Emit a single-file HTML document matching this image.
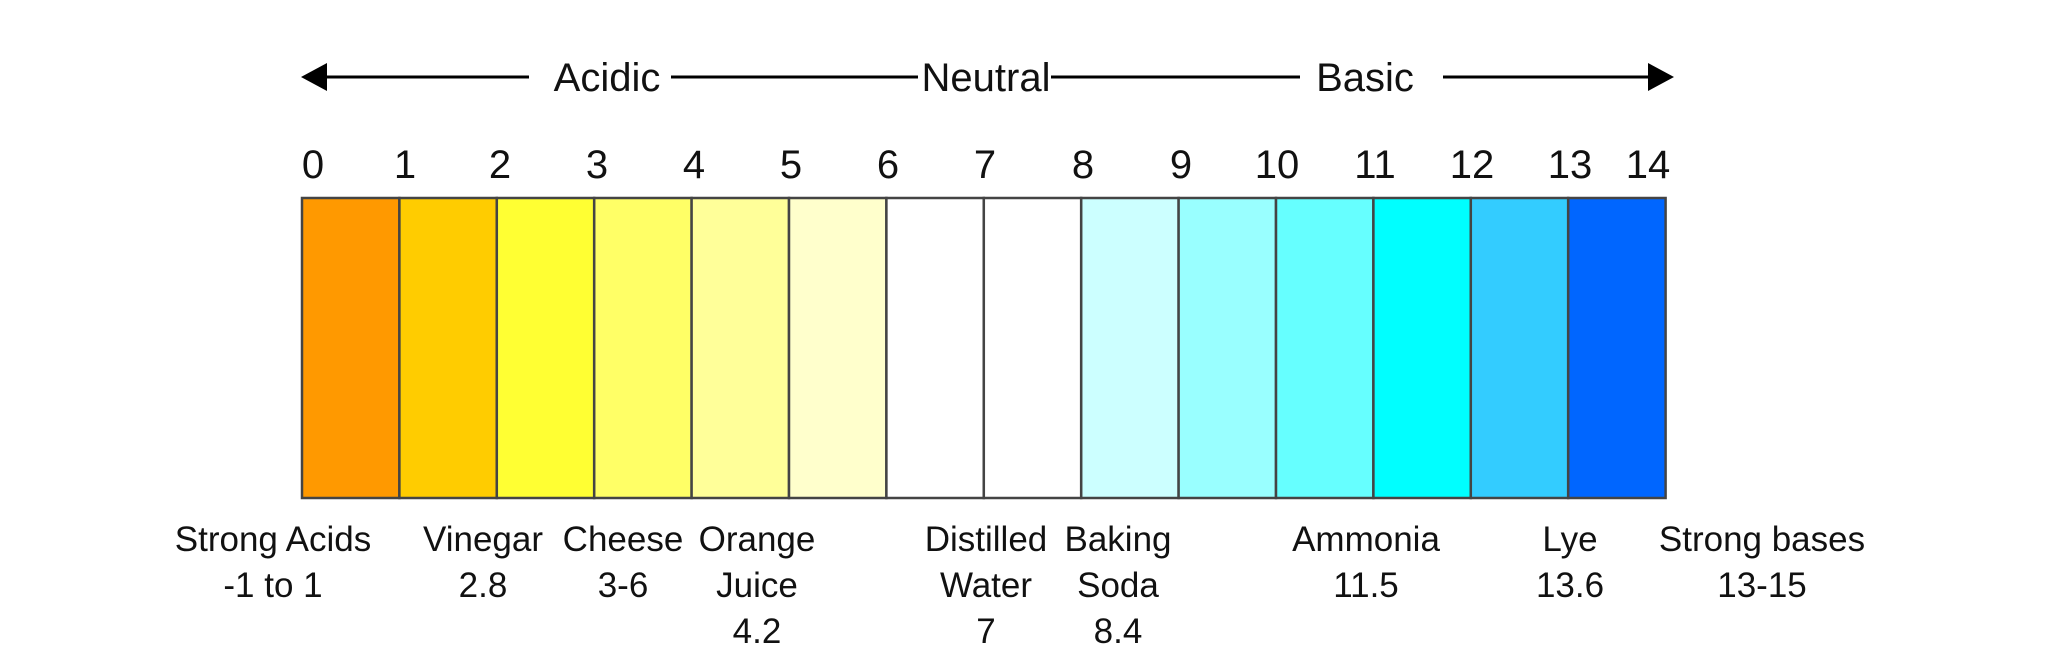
<!DOCTYPE html>
<html><head><meta charset="utf-8"><style>
html,body{margin:0;padding:0;background:#fff}
svg{display:block}
text{font-family:"Liberation Sans",sans-serif;fill:#111;text-anchor:middle}
</style></head><body>
<svg width="2048" height="666" viewBox="0 0 2048 666">
<g stroke="#000" stroke-width="3">
<line x1="320" y1="77" x2="529" y2="77"/>
<line x1="671" y1="77" x2="918" y2="77"/>
<line x1="1051" y1="77" x2="1300" y2="77"/>
<line x1="1443" y1="77" x2="1655" y2="77"/>
</g>
<polygon points="301,77 327,63 327,91" fill="#000"/>
<polygon points="1674,77 1648,63 1648,91" fill="#000"/>
<g font-size="40">
<text x="607" y="91">Acidic</text>
<text x="986" y="91">Neutral</text>
<text x="1365" y="91">Basic</text>
</g>
<g stroke="#444" stroke-width="2.5">
<rect x="302" y="198" width="97.4" height="300" fill="#FF9900"/>
<rect x="399.4" y="198" width="97.4" height="300" fill="#FFCC00"/>
<rect x="496.8" y="198" width="97.4" height="300" fill="#FFFF33"/>
<rect x="594.2" y="198" width="97.4" height="300" fill="#FFFF66"/>
<rect x="691.6" y="198" width="97.4" height="300" fill="#FFFF99"/>
<rect x="789" y="198" width="97.4" height="300" fill="#FFFFCC"/>
<rect x="886.4" y="198" width="97.4" height="300" fill="#FFFFFF"/>
<rect x="983.8" y="198" width="97.4" height="300" fill="#FFFFFF"/>
<rect x="1081.2" y="198" width="97.4" height="300" fill="#CCFFFF"/>
<rect x="1178.6" y="198" width="97.4" height="300" fill="#99FFFF"/>
<rect x="1276" y="198" width="97.4" height="300" fill="#66FFFF"/>
<rect x="1373.4" y="198" width="97.4" height="300" fill="#00FFFF"/>
<rect x="1470.8" y="198" width="97.4" height="300" fill="#33CCFF"/>
<rect x="1568.2" y="198" width="97.4" height="300" fill="#0066FF"/>
</g>
<g font-size="40">
<text x="313" y="178">0</text>
<text x="405" y="178">1</text>
<text x="500" y="178">2</text>
<text x="597" y="178">3</text>
<text x="694" y="178">4</text>
<text x="791" y="178">5</text>
<text x="888" y="178">6</text>
<text x="985" y="178">7</text>
<text x="1083" y="178">8</text>
<text x="1181" y="178">9</text>
<text x="1277" y="178">10</text>
<text x="1375" y="178">11</text>
<text x="1472" y="178">12</text>
<text x="1570" y="178">13</text>
<text x="1648" y="178">14</text>
</g>
<g font-size="35">
<text x="273" y="551">Strong Acids</text><text x="273" y="597">-1 to 1</text>
<text x="483" y="551">Vinegar</text><text x="483" y="597">2.8</text>
<text x="623" y="551">Cheese</text><text x="623" y="597">3-6</text>
<text x="757" y="551">Orange</text><text x="757" y="597">Juice</text><text x="757" y="643">4.2</text>
<text x="986" y="551">Distilled</text><text x="986" y="597">Water</text><text x="986" y="643">7</text>
<text x="1118" y="551">Baking</text><text x="1118" y="597">Soda</text><text x="1118" y="643">8.4</text>
<text x="1366" y="551">Ammonia</text><text x="1366" y="597">11.5</text>
<text x="1570" y="551">Lye</text><text x="1570" y="597">13.6</text>
<text x="1762" y="551">Strong bases</text><text x="1762" y="597">13-15</text>
</g>
</svg>
</body></html>
